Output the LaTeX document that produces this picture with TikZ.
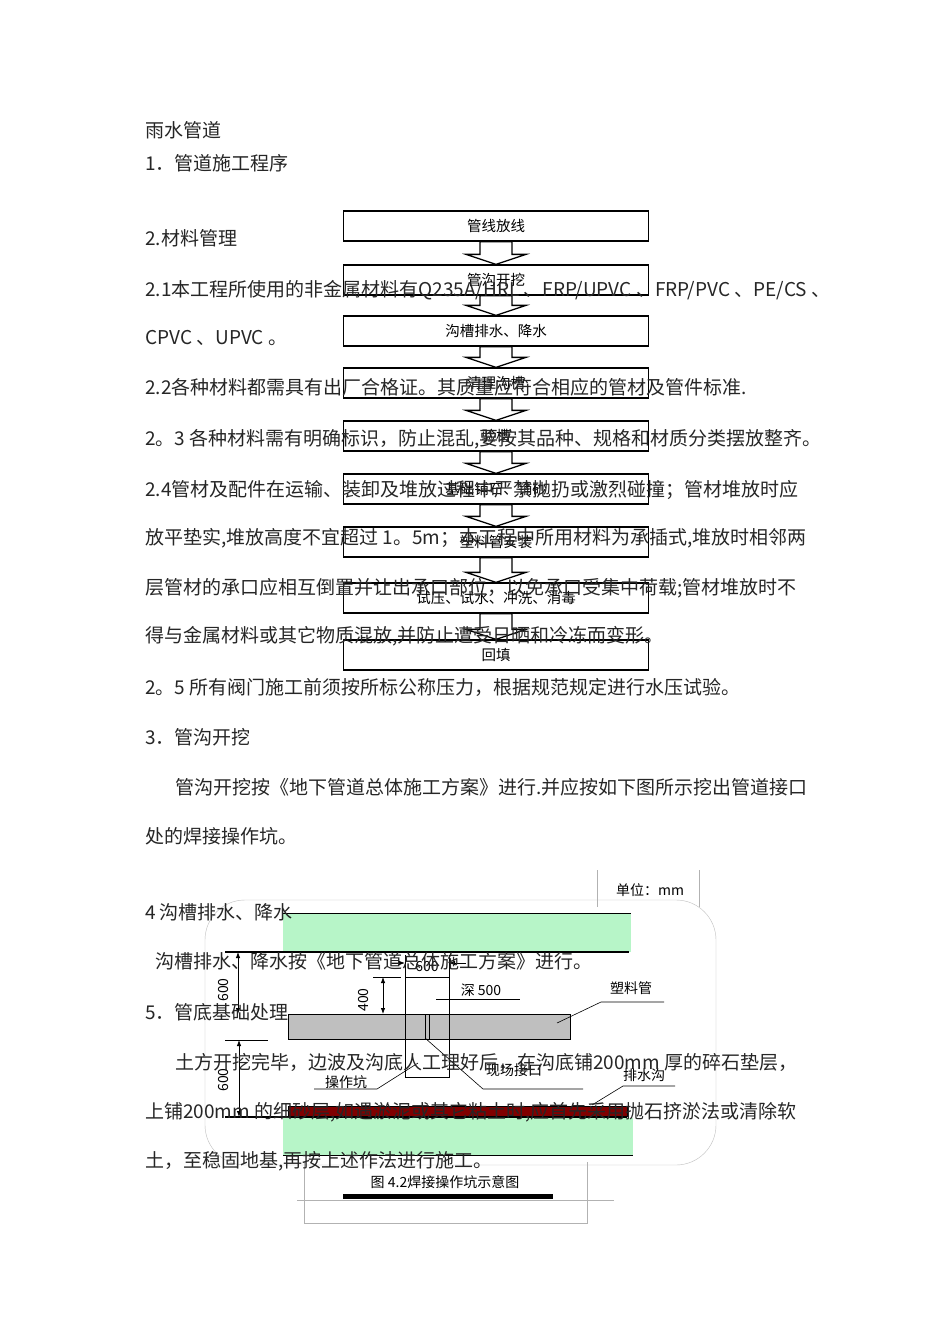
\documentclass[tikz,border=0pt]{standalone}
\usepackage{fontspec}
\setmainfont{Liberation Serif}
\newfontfamily\cjk{Noto Sans CJK SC}
\usetikzlibrary{arrows.meta}
\definecolor{bandgreen}{RGB}{183,245,200}
\begin{document}
\begin{tikzpicture}[x=1pt,y=-1pt,
  body/.style={anchor=west,inner sep=0pt,font=\cjk\fontsize{19}{21}\selectfont,text=black!85},
  flow/.style={draw,line width=1.3pt,minimum width=305pt,minimum height=30pt,inner sep=0pt,font=\cjk\fontsize{14.5}{16}\selectfont,fill=white,fill opacity=0,text opacity=1},
  flarrow/.style={draw,line width=1.3pt,fill=white},
  lab/.style={inner sep=0pt,font=\cjk\fontsize{14}{16}\selectfont},
  thin/.style={draw,line width=0.6pt},
  dimarr/.style={draw,line width=0.8pt,{Latex[length=6pt]}-{Latex[length=6pt]}},
  green/.style={fill=bandgreen,draw=none}]
\useasboundingbox (0,0) rectangle (950,1344);
\fill[white] (0,0) rectangle (950,1344);
% flowchart
\foreach \n/\t/\y in {1/管线放线/226,2/管沟开挖/280,3/{沟槽排水、降水}/331,4/清理沟槽/383,5/验槽/436,6/{基础铺石、铺砂}/489,7/塑料管安装/542,8/{试压、试水、冲洗、消毒}/598,9/回填/655}
  \node[flow] (b\n) at (496,\y) {\t};
\foreach \a/\b in {1/2,2/3,3/4,4/5,5/6,6/7,7/8,8/9}
  \path[flarrow] ([xshift=-16pt]b\a.south) -- ([xshift=-16pt,yshift=10pt]b\b.north) -- ([xshift=-30pt,yshift=10pt]b\b.north) -- (b\b.north) -- ([xshift=30pt,yshift=10pt]b\b.north) -- ([xshift=16pt,yshift=10pt]b\b.north) -- ([xshift=16pt]b\a.south) -- cycle;
% body text
\node[body] (t0) at (145,130) {雨水管道};
\node[body] (t1) at (145,163) {1．管道施工程序};
\node[body] (t2) at (145,238) {2.材料管理};
\node[body] (t3) at (145,290) {2.1本工程所使用的非金属材料有Q235A/HRL 、FRP/UPVC 、FRP/PVC 、PE/CS 、};
\node[body] (t4) at (145,338) {CPVC 、UPVC 。};
\node[body] (t5) at (145,387) {2.2各种材料都需具有出厂合格证。其质量应符合相应的管材及管件标准.};
\node[body] (t6) at (145,439) {2。3 各种材料需有明确标识，防止混乱,要按其品种、规格和材质分类摆放整齐。};
\node[body] (t7) at (145,490) {2.4管材及配件在运输、装卸及堆放过程中严禁抛扔或激烈碰撞；管材堆放时应};
\node[body] (t8) at (145,538) {放平垫实,堆放高度不宜超过 1。5m；本工程中所用材料为承插式,堆放时相邻两};
\node[body] (t9) at (145,588) {层管材的承口应相互倒置并让出承口部位，以免承口受集中荷载;管材堆放时不};
\node[body] (t10) at (145,636) {得与金属材料或其它物质混放,并防止遭受日晒和冷冻而变形。};
\node[body] (t11) at (145,687) {2。5 所有阀门施工前须按所标公称压力，根据规范规定进行水压试验。};
\node[body] (t12) at (145,737) {3．管沟开挖};
\node[body] (t13) at (175,787) {管沟开挖按《地下管道总体施工方案》进行.并应按如下图所示挖出管道接口};
\node[body] (t14) at (145,836) {处的焊接操作坑。};
% figure
\draw[black!25,rounded corners=40pt] (205,900) rectangle (716,1165);
\draw[black!30] (597,870) -- (597,907) (699,870) -- (699,907);
\node[lab] (unit) at (650,890) {单位：mm};
\fill[green] (283,913) rectangle (631,952);
\draw[line width=0.8pt] (283,913) -- (631,913);
\draw[line width=1.6pt] (225,952) -- (629,952);
\fill[green] (283,1118) rectangle (633,1155);
\draw[line width=0.8pt] (283,1155) -- (633,1155);
\draw[line width=1.2pt] (225,1117) -- (627,1117);
\draw[fill=red!50!black] (288,1106) rectangle (627,1116);
\node[draw,fill=black!25,minimum width=282pt,minimum height=25pt,inner sep=0pt,anchor=north west] (pipe) at (288,1014) {};
\draw[thin] (405,977) rectangle (449,1077);
\fill[black!25] (406,1015) rectangle (448,1038);
\draw[thin,dashed] (405,1014) -- (405,1039) (449,1014) -- (449,1039);
\draw[thin] (425,1014) -- (425,1039) (429,1014) -- (429,1039);
% dims
\coordinate (d1a) at (238,952); \coordinate (d1b) at (238,1014);
\draw[dimarr] (d1a) -- (d1b);
\node[lab,rotate=90] at (224,990) {600};
\draw[thin] (373,977) -- (401,977);
\coordinate (d2a) at (383,977); \coordinate (d2b) at (383,1014);
\draw[dimarr] (d2a) -- (d2b);
\node[lab,rotate=90] at (364,1000) {400};
\draw[thin] (225,1040) -- (268,1040);
\coordinate (d3a) at (239,1040); \coordinate (d3b) at (239,1117);
\draw[dimarr] (d3a) -- (d3b);
\node[lab,rotate=90] at (224,1080) {600};
\draw[thin] (405,955) -- (405,977) (449,955) -- (449,977);
\draw[line width=0.8pt,-{Latex[length=6pt]}] (392,963) -- (405,963);
\draw[line width=0.8pt,-{Latex[length=6pt]}] (466,963) -- (449,963);
\node[lab,inner sep=1pt] at (427,966) {600};
\node[lab] (deep) at (481,990) {深 500};
\draw[thin] (436,999) -- (520,999);
\node[lab] (pl) at (631,988) {塑料管};
\draw[thin] (664,1002) -- (601,1002) -- (557,1023);
\node[lab] (pit) at (346,1082) {操作坑};
\draw[thin] (314,1089) -- (377,1089) -- (418,1063);
\node[lab] (jt) at (514,1070) {现场接口};
\draw[thin] (425,1038) -- (483,1089) -- (583,1089);
\node[lab] (dr) at (644,1075) {排水沟};
\draw[thin] (675,1086) -- (623,1086) -- (592,1105);
% caption
\draw[black!30] (304,1162) -- (304,1223) -- (587,1223) -- (587,1162);
\draw[black!30] (297,1200) -- (614,1200);
\node[lab] (cap) at (445,1182) {图 4.2焊接操作坑示意图};
\fill (343,1194) rectangle (553,1199);
% body text over figure
\node[body] (t15) at (145,912) {4 沟槽排水、降水};
\node[body] (t16) at (155,961) {沟槽排水、降水按《地下管道总体施工方案》进行。};
\node[body] (t17) at (145,1012) {5．管底基础处理};
\node[body] (t18) at (175,1062) {土方开挖完毕，边波及沟底人工理好后，在沟底铺200mm 厚的碎石垫层，};
\node[body] (t19) at (145,1112) {上铺200mm 的细砂层,如遇淤泥或其它粘土时,应首先采用抛石挤淤法或清除软};
\node[body] (t20) at (145,1161) {土，至稳固地基,再按上述作法进行施工。};
\end{tikzpicture}
\end{document}
